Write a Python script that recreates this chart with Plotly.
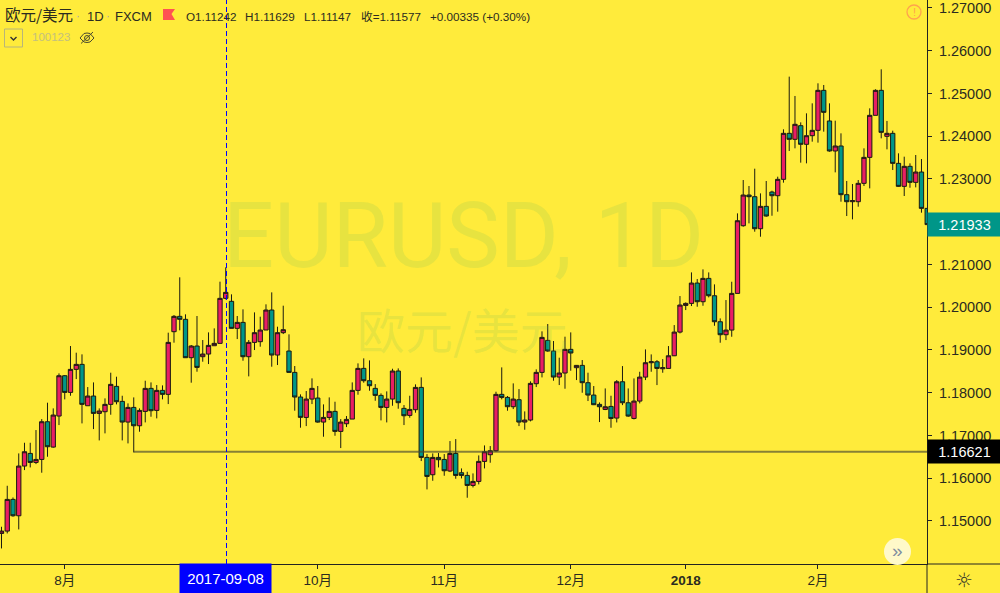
import plotly.graph_objects as go

opens = [1.14709,1.14764,1.15505,1.15122,1.16285,1.16581,1.16370,1.16440,1.17322,1.16729,
1.17455,1.18398,1.18008,1.18547,1.18664,1.17696,1.17923,1.17517,1.17556,1.17728,
1.18149,1.17798,1.17314,1.17657,1.17228,1.17564,1.18102,1.17587,1.18055,1.17962,
1.19428,1.19787,1.19717,1.18820,1.19093,1.18843,1.18905,1.19100,1.19155,1.20208,
1.20138,1.19506,1.19646,1.18843,1.19178,1.19194,1.19467,1.19935,1.18882,1.19405,
1.18976,1.18476,1.17900,1.17423,1.17852,1.17876,1.17314,1.17423,1.17564,1.17096,
1.17275,1.17384,1.18055,1.18570,1.18281,1.18102,1.17938,1.17657,1.17852,1.18508,
1.17634,1.17470,1.17603,1.18125,1.16487,1.16082,1.16487,1.16440,1.16168,1.16581,
1.16129,1.16066,1.15832,1.15926,1.16394,1.16550,1.16643,1.17962,1.17891,1.17673,
1.17837,1.17314,1.17361,1.18211,1.18476,1.19225,1.18976,1.18367,1.18461,1.19015,
1.18586,1.18640,1.18235,1.17946,1.17728,1.17609,1.17680,1.17407,1.18257,1.17766,
1.17399,1.17805,1.18366,1.18702,1.18725,1.18561,1.18569,1.18865,1.19419,1.20043,
1.20090,1.20566,1.20129,1.20675,1.20269,1.19661,1.19357,1.19466,1.20324,1.21907,
1.22625,1.22586,1.21837,1.22360,1.22695,1.22609,1.22992,1.24068,1.23928,1.24247,
1.23811,1.24013,1.24138,1.25074,1.24357,1.23655,1.23772,1.22633,1.22469,1.22469,
1.22898,1.23506,1.24489,1.25074,1.23998,1.24068,1.23366,1.22828,1.23296,1.22921,
1.23163,1.22313]

closes = [1.14764,1.15505,1.15122,1.16285,1.16620,1.16370,1.16440,1.17322,1.16737,1.17478,
1.18398,1.18008,1.18547,1.18664,1.17728,1.17923,1.17517,1.17572,1.17728,1.18196,
1.17790,1.17314,1.17657,1.17228,1.17587,1.18102,1.17580,1.18055,1.17962,1.19178,
1.19787,1.19717,1.18820,1.19093,1.18593,1.18905,1.19108,1.19155,1.20208,1.20348,
1.19506,1.19646,1.18843,1.19178,1.19405,1.19467,1.19935,1.18882,1.19405,1.19475,
1.18476,1.17900,1.17424,1.17852,1.18102,1.17314,1.17423,1.17564,1.17096,1.17314,
1.17377,1.18055,1.18570,1.18281,1.18164,1.17938,1.17657,1.17852,1.18508,1.17767,
1.17462,1.17610,1.18125,1.16487,1.16043,1.16487,1.16433,1.16175,1.16581,1.16066,
1.16066,1.15832,1.15926,1.16394,1.16620,1.16643,1.17962,1.17891,1.17673,1.17852,
1.17314,1.17361,1.18219,1.18476,1.19295,1.18976,1.18367,1.18461,1.19015,1.18929,
1.18640,1.18235,1.17946,1.17720,1.17673,1.17672,1.17399,1.18257,1.17766,1.17454,
1.17805,1.18366,1.18702,1.18725,1.18569,1.18585,1.18865,1.19419,1.20051,1.20090,
1.20566,1.20129,1.20675,1.20269,1.19661,1.19357,1.19466,1.20324,1.22024,1.22625,
1.22586,1.21837,1.22360,1.22134,1.22609,1.22992,1.24068,1.23928,1.24279,1.23811,
1.24013,1.24138,1.25074,1.24559,1.23655,1.23772,1.22633,1.22469,1.22492,1.22898,
1.23506,1.24489,1.25074,1.24091,1.24068,1.23366,1.22828,1.23296,1.22921,1.23163,
1.22313,1.21933]

highs = [1.14865,1.15824,1.15550,1.16581,1.16830,1.16830,1.17127,1.17384,1.17767,1.17634,
1.18453,1.18414,1.19093,1.18937,1.18898,1.18133,1.18242,1.17634,1.17868,1.18469,
1.18375,1.17930,1.17751,1.17891,1.17634,1.18281,1.18242,1.18180,1.18172,1.19405,
1.19818,1.20700,1.19834,1.19116,1.19795,1.19233,1.19412,1.19506,1.20598,1.20933,
1.20302,1.19795,1.19951,1.19233,1.19880,1.19779,1.20068,1.20348,1.19545,1.20036,
1.19366,1.18625,1.17962,1.18040,1.18336,1.18157,1.17728,1.17891,1.17790,1.17384,
1.17455,1.18242,1.18687,1.18804,1.18757,1.18203,1.17985,1.18032,1.18562,1.18570,
1.17712,1.17930,1.18196,1.18359,1.16565,1.16581,1.16589,1.16565,1.16870,1.16916,
1.16230,1.16152,1.16113,1.16534,1.16768,1.16753,1.18024,1.18593,1.17923,1.18219,
1.18086,1.17564,1.18266,1.18547,1.19436,1.19607,1.19210,1.18820,1.19311,1.19412,
1.18648,1.18765,1.18469,1.18157,1.17774,1.18101,1.17930,1.18296,1.18624,1.18101,
1.18335,1.18491,1.19014,1.18897,1.18764,1.18787,1.19092,1.19583,1.20262,1.20113,
1.20815,1.20660,1.20886,1.20815,1.20535,1.19739,1.20168,1.20597,1.22196,1.22976,
1.22836,1.23241,1.22664,1.22953,1.22726,1.23054,1.24162,1.25394,1.24942,1.24325,
1.24536,1.24770,1.25238,1.25199,1.24770,1.24364,1.24068,1.22953,1.22882,1.22976,
1.23717,1.24653,1.25098,1.25566,1.24357,1.24130,1.23600,1.23522,1.23366,1.23561,
1.23467,1.22313]

lows = [1.14358,1.14709,1.15099,1.14803,1.16191,1.16253,1.16331,1.16129,1.16503,1.16714,
1.17244,1.17845,1.17930,1.18320,1.17283,1.17696,1.17150,1.16885,1.17050,1.17486,
1.17728,1.16885,1.16815,1.16604,1.17088,1.17306,1.17439,1.17400,1.17845,1.17735,
1.19171,1.19460,1.18820,1.18235,1.18492,1.18726,1.18671,1.19100,1.19155,1.20185,
1.19506,1.19256,1.18749,1.18383,1.18999,1.19077,1.19467,1.18609,1.18648,1.19373,
1.18476,1.17580,1.17182,1.17220,1.17735,1.17299,1.16971,1.17361,1.16994,1.16706,
1.17197,1.17384,1.17954,1.18235,1.18047,1.17813,1.17353,1.17306,1.17696,1.17626,
1.17244,1.17416,1.17533,1.16402,1.15739,1.15941,1.16253,1.16058,1.16144,1.15988,
1.15996,1.15544,1.15785,1.15856,1.16230,1.16363,1.16620,1.17845,1.17579,1.17618,
1.17220,1.17135,1.17330,1.18133,1.18359,1.18960,1.18281,1.18180,1.18094,1.18515,
1.18297,1.18000,1.17806,1.17712,1.17314,1.17594,1.17181,1.17305,1.17711,1.17438,
1.17376,1.17750,1.18296,1.18491,1.18179,1.18468,1.18569,1.18858,1.19388,1.19934,
1.20028,1.20012,1.20035,1.20230,1.19567,1.19170,1.19232,1.19310,1.20324,1.21884,
1.21962,1.21767,1.21650,1.22118,1.22141,1.22235,1.22914,1.23655,1.23717,1.23382,
1.23366,1.23873,1.23850,1.24107,1.23639,1.23155,1.22469,1.22134,1.22056,1.22352,
1.22836,1.22781,1.24489,1.23951,1.23694,1.23210,1.22820,1.22602,1.22796,1.22804,
1.22212,1.21933]

levelPrice = 1.16621
yTicks = [1.15,1.16,1.17,1.18,1.19,1.20,1.21,1.23,1.24,1.25,1.26,1.27]
xTickIdx = [11,55,77,99,119,142]
xTickText = ["8月","10月","11月","12月","<b>2018</b>","2月"]
crossLabel = "2017-09-08"
lastPrice = 1.21933

W, H = 1000, 593
PR, PB = 927, 564
BG = "#FFEB3B"
RED, TEAL = "#E91E63", "#009688"
FONT = "Liberation Sans"

def px(x): return x / PR
def py(y): return 1 - y / PB

fig = go.Figure()
xs = list(range(len(opens)))
fig.add_trace(go.Candlestick(
    x=xs, open=opens, high=highs, low=lows, close=closes, whiskerwidth=0,
    increasing=dict(fillcolor=RED, line=dict(color="#1a1a10", width=1)),
    decreasing=dict(fillcolor=TEAL, line=dict(color="#1a1a10", width=1)),
    hoverinfo="skip", showlegend=False))
fig.add_trace(go.Scatter(x=[23, xs[-1] + 1], y=[levelPrice, levelPrice], mode="lines",
    line=dict(color="rgba(70,70,50,0.65)", width=2), hoverinfo="skip", showlegend=False))

fig.update_layout(
    width=W, height=H, margin=dict(l=0, r=W-PR, t=0, b=H-PB, pad=0),
    paper_bgcolor=BG, plot_bgcolor=BG, boxgap=0.25, boxgroupgap=0, showlegend=False,
    font=dict(family=FONT, color="#2b2b20", size=14),
    xaxis=dict(range=[-0.26, 160.96], rangeslider=dict(visible=False), showgrid=False, zeroline=False,
        tickmode="array", tickvals=xTickIdx, ticktext=xTickText, ticks="outside", ticklen=4,
        tickcolor="#222", showline=True, linecolor="#222", linewidth=1, tickfont=dict(size=13.5, family=FONT + ", Noto Sans CJK SC")),
    yaxis=dict(side="right", range=[1.13994, 1.27187], showgrid=False, zeroline=False,
        tickmode="array", tickvals=yTicks, ticktext=[f"{v:.5f}" for v in yTicks],
        ticks="outside", ticklen=4, tickcolor="#222", showline=True, linecolor="#222", linewidth=1,
        tickfont=dict(size=14.5, family=FONT), ticklabelstandoff=4),
)

def note(text, x, y, size=12, color="#2b2b20", anchor="left", family=FONT, **kw):
    fig.add_annotation(text=text, xref="paper", yref="paper", x=px(x), y=py(y), xanchor=anchor, yanchor="middle",
        showarrow=False, font=dict(size=size, color=color, family=family), align="center", **kw)

# watermark
wm = "rgba(110,190,90,0.17)"
note("EURUSD, 1D", 463.5, 236, size=90, color=wm, anchor="center", family="Roboto")
note("欧元/美元", 462, 328, size=48, color=wm, anchor="center", family="Noto Sans CJK SC")

# crosshair
fig.add_shape(type="line", xref="paper", yref="paper", x0=px(226.5), x1=px(226.5), y0=0, y1=1,
    line=dict(color="#0000FF", width=1, dash="5px,3px"), layer="above")
# axis extensions
fig.add_shape(type="line", xref="paper", yref="paper", x0=1, x1=px(W), y0=0, y1=0, line=dict(color="#222", width=1))
fig.add_shape(type="line", xref="paper", yref="paper", x0=1, x1=1, y0=0, y1=py(H), line=dict(color="#222", width=1))

# axis tags
fig.add_annotation(text=crossLabel, xref="paper", yref="paper", x=px(225.5), y=py(578.5), xanchor="center", yanchor="middle",
    showarrow=False, width=91, height=29, bgcolor="#0000FF", borderpad=0, font=dict(color="white", size=15, family=FONT))
for price, bg in ((lastPrice, TEAL), (levelPrice, "#000000")):
    fig.add_annotation(text=f"{price:.5f}", xref="paper", yref="y", x=1, y=price, xanchor="left", yanchor="middle",
        showarrow=False, width=W-PR, height=23, bgcolor=bg, borderpad=0, font=dict(color="white", size=14.5, family=FONT))

# header
note("欧元/美元", 3, 14, size=15.5, family="Noto Sans CJK SC")
note("·", 78, 16, size=12, color="#aaa", anchor="center")
note("1D", 85, 16, size=13)
note("·", 108, 16, size=12, color="#aaa", anchor="center")
note("FXCM", 113, 16, size=13)
note("O1.11242", 184, 16, size=11.7)
note("H1.11629", 243, 16, size=11.7)
note("L1.11147", 302, 16, size=11.7)
note("收=1.11577", 359, 16, size=11.7, family=FONT + ", Noto Sans CJK SC")
note("+0.00335 (+0.30%)", 428, 16, size=11.7)
note("100123", 30, 37, size=11.5, color="#c4c07e")

def pathpx(points, **kw):
    d = "M" + " L".join(f"{px(x)},{py(y)}" for x, y in points)
    fig.add_shape(type="path", xref="paper", yref="paper", path=d, **kw)

# flag
pathpx([(163,9),(175,9),(171.5,14),(175,20),(163,20),(163,9)], fillcolor="#FF5252", line=dict(width=0))
# legend collapse button
fig.add_shape(type="rect", xref="paper", yref="paper", x0=px(4.5), x1=px(22.5), y0=py(47), y1=py(29),
    line=dict(color="#b8b57a", width=1), fillcolor="rgba(0,0,0,0)")
pathpx([(10.5,37),(13.5,40),(16.5,37)], line=dict(color="#333", width=1.4))
# eye icon
pathpx([(80,38),(84,33.5),(87,33),(90,33.5),(94,38),(90,42),(87,42.5),(84,42),(80,38)], line=dict(color="#4a4a30", width=1))
fig.add_shape(type="circle", xref="paper", yref="paper", x0=px(84.5), x1=px(89.5), y0=py(40.5), y1=py(35.5),
    line=dict(color="#4a4a30", width=1))
pathpx([(81,43.5),(93,32)], line=dict(color="#4a4a30", width=1))
# warning icon
fig.add_shape(type="circle", xref="paper", yref="paper", x0=px(907), x1=px(921), y0=py(19), y1=py(5),
    line=dict(color="#FFA34D", width=1.3))
note("!", 914, 12, size=11, color="#FFA34D", anchor="center")
# scroll button
fig.add_shape(type="circle", xref="paper", yref="paper", x0=px(884), x1=px(911), y0=py(565), y1=py(538),
    line=dict(width=0), fillcolor="#FFF9C9", layer="above")
note("»", 897, 550, size=19, color="#7f8ea0", anchor="center")
# settings icon
note("☼", 964, 580, size=20, color="#3a3a28", anchor="center", family="DejaVu Sans")

fig.write_html("out.html", config=dict(displayModeBar=False),
    post_script="document.body.style.margin='0';document.body.style.overflow='hidden';document.documentElement.style.background='#FFEB3B';")
